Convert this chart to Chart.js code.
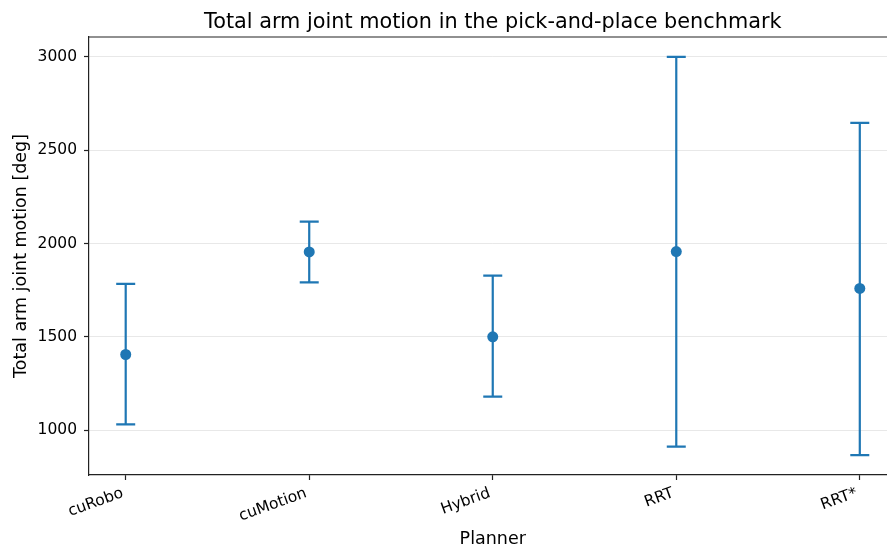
<!DOCTYPE html>
<html>
<head>
<meta charset="utf-8">
<script src="https://cdn.jsdelivr.net/npm/chart.js@4/dist/chart.umd.min.js"></script>
<style>
    html, body { margin: 0; padding: 0; background: #fff; }
    #wrap { width: 887px; height: 552px; overflow: hidden; }
    canvas { display: block; }
</style>
</head>
<body>
<div id="wrap"><canvas id="motionChart" width="902" height="552"></canvas></div>
<script>
// Data
const planners = ['cuRobo', 'cuMotion', 'Hybrid', 'RRT', 'RRT*'];
const meanMotion = [1405, 1955, 1500, 1957, 1759];
const lowerMotion = [1030, 1792, 1179, 911, 866];
const upperMotion = [1784, 2117, 1828, 3000, 2647];
const yTicks = [1000, 1500, 2000, 2500, 3000];

const blue = '#1f77b4';
const font = 'DejaVu Sans';

// Draw error bars through the chart scales, plus title and top spine
const errorBarPlugin = {
    id: 'errorBars',
    beforeDatasetsDraw(chart) {
        const { ctx, scales: { x, y } } = chart;
        ctx.save();
        ctx.strokeStyle = blue;
        ctx.lineWidth = 2.2;
        planners.forEach((name, i) => {
            const px = x.getPixelForValue(i);
            const lo = y.getPixelForValue(lowerMotion[i]);
            const hi = y.getPixelForValue(upperMotion[i]);
            ctx.beginPath();
            ctx.moveTo(px, lo);
            ctx.lineTo(px, hi);
            ctx.moveTo(px - 9.5, lo);
            ctx.lineTo(px + 9.5, lo);
            ctx.moveTo(px - 9.5, hi);
            ctx.lineTo(px + 9.5, hi);
            ctx.stroke();
        });
        ctx.restore();
    },
    afterDraw(chart) {
        const { ctx, chartArea } = chart;
        ctx.save();
        ctx.strokeStyle = '#222';
        ctx.lineWidth = 1.2;
        ctx.beginPath();
        ctx.moveTo(chartArea.left, chartArea.top);
        ctx.lineTo(chartArea.right, chartArea.top);
        ctx.stroke();
        ctx.fillStyle = '#000';
        ctx.font = `20.8px "${font}"`;
        ctx.textAlign = 'center';
        ctx.textBaseline = 'alphabetic';
        ctx.fillText('Total arm joint motion in the pick-and-place benchmark',
            (chartArea.left + chartArea.right) / 2, 27.5);
        ctx.restore();
    }
};

const ctx = document.getElementById('motionChart').getContext('2d');
new Chart(ctx, {
    type: 'scatter',
    data: {
        datasets: [{
            label: 'Mean',
            data: planners.map((name, i) => ({ x: i, y: meanMotion[i] })),
            backgroundColor: blue,
            borderColor: blue,
            pointRadius: 5.5,
            pointHoverRadius: 5.5,
            borderWidth: 0
        }]
    },
    options: {
        responsive: false,
        animation: false,
        devicePixelRatio: 1,
        layout: { padding: { top: 37, left: 0, right: 0, bottom: 0 } },
        plugins: {
            legend: { display: false },
            tooltip: { enabled: false },
            title: { display: false }
        },
        scales: {
            x: {
                type: 'linear',
                min: -0.2,
                max: 4.2,
                afterBuildTicks: scale => {
                    scale.ticks = planners.map((name, i) => ({ value: i }));
                },
                afterFit: scale => { scale.height = 77; },
                ticks: {
                    autoSkip: false,
                    minRotation: 20,
                    maxRotation: 20,
                    padding: 4,
                    labelOffset: -3,
                    color: '#000',
                    font: { family: font, size: 15.5 },
                    callback: value => planners[value]
                },
                grid: {
                    drawOnChartArea: false,
                    tickLength: 5,
                    tickColor: '#222',
                    tickWidth: 1.2
                },
                border: { display: true, color: '#222', width: 1.2 },
                title: {
                    display: true,
                    text: 'Planner',
                    color: '#000',
                    font: { family: font, size: 17.5 },
                    padding: { top: 0, bottom: 2 }
                }
            },
            y: {
                min: 759,
                max: 3107,
                afterBuildTicks: scale => {
                    scale.ticks = yTicks.map(v => ({ value: v }));
                },
                afterFit: scale => { scale.width = 89; },
                ticks: {
                    padding: 7,
                    color: '#000',
                    font: { family: font, size: 15.5 },
                    callback: value => String(value)
                },
                grid: {
                    color: '#e8e8e8',
                    lineWidth: 1,
                    tickLength: 5,
                    tickColor: '#222',
                    tickWidth: 1.2
                },
                border: { display: true, color: '#222', width: 1.2 },
                title: {
                    display: true,
                    text: 'Total arm joint motion [deg]',
                    color: '#000',
                    font: { family: font, size: 17.5 },
                    padding: { top: 11, bottom: 0 }
                }
            }
        }
    },
    plugins: [errorBarPlugin]
});
</script>
</body>
</html>
